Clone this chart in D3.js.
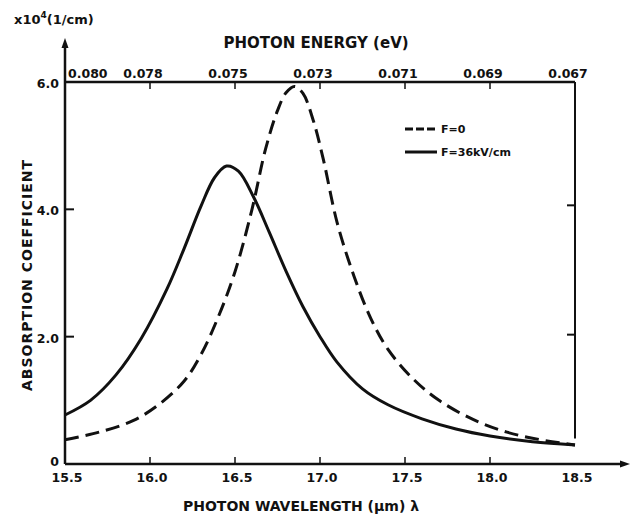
<!DOCTYPE html>
<html><head><meta charset="utf-8">
<script src="https://cdn.jsdelivr.net/npm/d3@7"></script>
<style>body{margin:0;background:#fff}svg{display:block}text{font-family:"DejaVu Sans",sans-serif;font-weight:bold;fill:#111}</style>
</head><body><svg id="c" width="631" height="517"></svg>
<script>
// wavelength (um) and absorption (x10^4 1/cm)
const lambdaF0 = [15.5,15.7,15.9,16.05,16.2,16.3,16.4,16.5,16.6,16.68,16.75,16.8,16.85,16.9,16.96,17.02,17.1,17.2,17.3,17.4,17.55,17.7,17.9,18.1,18.3,18.5];
const alphaF0  = [0.38,0.5,0.68,0.93,1.3,1.72,2.3,3.02,4.0,4.95,5.55,5.83,5.93,5.82,5.4,4.78,3.8,2.95,2.28,1.8,1.33,1.0,0.7,0.5,0.38,0.30];
const lambdaF36 = [15.5,15.65,15.8,15.95,16.1,16.2,16.3,16.38,16.45,16.52,16.61,16.7,16.8,16.9,17.0,17.1,17.25,17.4,17.6,17.8,18.0,18.25,18.5];
const alphaF36  = [0.77,1.0,1.4,1.98,2.75,3.38,4.05,4.5,4.68,4.6,4.19,3.65,3.03,2.47,2.0,1.6,1.18,0.93,0.71,0.55,0.44,0.35,0.30];
const xTicks = [15.5,16.0,16.5,17.0,17.5,18.0,18.5];
const xTickLabels = ["15.5","16.0","16.5","17.0","17.5","18.0","18.5"];
const energyLabels = ["0.080","0.078","0.075","0.073","0.071","0.069","0.067"];
const yTicks = [0,2,4,6];
const yTickLabels = ["0","2.0","4.0","6.0"];
const seriesNames = ["F=0","F=36kV/cm"];

const svg = d3.select("#c");
const x = d3.scaleLinear().domain([15.5,18.5]).range([65,575]);
const y = d3.scaleLinear().domain([0,6]).range([464,82]);
const ink = "#111";

// left axis with arrow
svg.append("line").attr("x1",x(15.5)).attr("x2",x(15.5)).attr("y1",y(0)).attr("y2",44).attr("stroke",ink).attr("stroke-width",2.5);
svg.append("path").attr("d",`M${x(15.5)-3.5},48 L${x(15.5)},38 L${x(15.5)+3.5},48 Z`).attr("fill",ink);
// bottom axis with arrow
svg.append("line").attr("x1",x(15.5)).attr("x2",624).attr("y1",y(0)).attr("y2",y(0)).attr("stroke",ink).attr("stroke-width",2.5);
svg.append("path").attr("d",`M620,${y(0)-3.5} L630,${y(0)} L620,${y(0)+3.5} Z`).attr("fill",ink);
// top axis
svg.append("line").attr("x1",x(15.5)).attr("x2",x(18.5)).attr("y1",y(6)).attr("y2",y(6)).attr("stroke",ink).attr("stroke-width",2.5);
// right frame
svg.append("line").attr("x1",x(18.5)).attr("x2",x(18.5)).attr("y1",y(6)).attr("y2",y(0.4)).attr("stroke",ink).attr("stroke-width",2);

// bottom ticks (inward)
const bt = svg.append("g");
xTicks.forEach((v,i)=>{
  if(i>0 && i<xTicks.length-1) bt.append("line").attr("x1",x(v)).attr("x2",x(v)).attr("y1",y(0)).attr("y2",y(0)-7).attr("stroke",ink).attr("stroke-width",1.5);
  bt.append("text").attr("x",x(v)+2).attr("y",y(0)+18).attr("text-anchor","middle").attr("font-size",12.5).text(xTickLabels[i]);
});
// top ticks and energy labels
xTicks.forEach((v,i)=>{
  if(i>0 && i<xTicks.length-1) svg.append("line").attr("x1",x(v)).attr("x2",x(v)).attr("y1",y(6)).attr("y2",y(6)+7).attr("stroke",ink).attr("stroke-width",1.5);
  svg.append("text").attr("x", i===0 ? x(v)+3 : x(v)-7).attr("y",y(6)-4)
    .attr("text-anchor", i===0 ? "start" : "middle").attr("font-size",12.5).text(energyLabels[i]);
});
// y ticks and labels
yTicks.forEach((v,i)=>{
  if(v>0 && v<6){
    svg.append("line").attr("x1",x(15.5)).attr("x2",x(15.5)+9).attr("y1",y(v)).attr("y2",y(v)).attr("stroke",ink).attr("stroke-width",2);
    svg.append("line").attr("x1",x(18.5)).attr("x2",x(18.5)-8).attr("y1",y(v)+(v===4?-4:-2)).attr("y2",y(v)+(v===4?-4:-2)).attr("stroke",ink).attr("stroke-width",2);
  }
  svg.append("text").attr("x",x(15.5)-6).attr("y",y(v)+(v===0?2:6)).attr("text-anchor","end").attr("font-size",12.5).text(yTickLabels[i]);
});

// curves
const line = d3.line().x(d=>x(d[0])).y(d=>y(d[1])).curve(d3.curveCatmullRom.alpha(0.5));
const dF0 = lambdaF0.map((l,i)=>[l,alphaF0[i]]);
const dF36 = lambdaF36.map((l,i)=>[l,alphaF36[i]]);
svg.append("path").attr("d",line(dF0)).attr("fill","none").attr("stroke",ink).attr("stroke-width",3).attr("stroke-dasharray","14,7");
svg.append("path").attr("d",line(dF36)).attr("fill","none").attr("stroke",ink).attr("stroke-width",3);

// legend
const lg = svg.append("g");
lg.append("line").attr("x1",405).attr("x2",437).attr("y1",129).attr("y2",129).attr("stroke",ink).attr("stroke-width",3).attr("stroke-dasharray","8,3");
lg.append("text").attr("x",441).attr("y",133).attr("font-size",11).text(seriesNames[0]);
lg.append("line").attr("x1",405).attr("x2",437).attr("y1",152).attr("y2",152).attr("stroke",ink).attr("stroke-width",3);
lg.append("text").attr("x",441).attr("y",156).attr("font-size",11).text(seriesNames[1]);

// titles
svg.append("text").attr("x",14).attr("y",24).attr("font-size",13).html('x10<tspan dy="-6" font-size="9">4</tspan><tspan dy="6">(1/cm)</tspan>');
svg.append("text").attr("x",316).attr("y",48).attr("text-anchor","middle").attr("font-size",15).text("PHOTON ENERGY (eV)");
svg.append("text").attr("transform","translate(32,275) rotate(-90)").attr("text-anchor","middle").attr("font-size",14).attr("letter-spacing",1).text("ABSORPTION COEFFICIENT");
svg.append("text").attr("x",301).attr("y",511).attr("text-anchor","middle").attr("font-size",14).text("PHOTON WAVELENGTH (µm) λ");
</script></body></html>
